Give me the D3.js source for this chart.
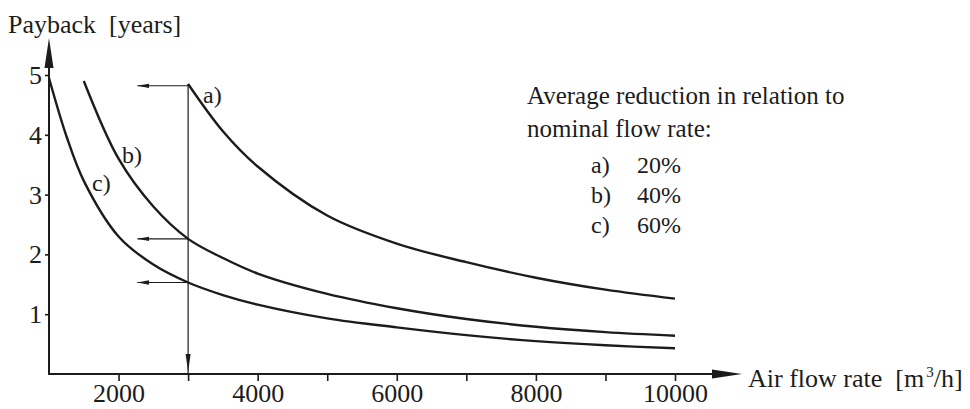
<!DOCTYPE html>
<html>
<head>
<meta charset="utf-8">
<script src="https://cdn.jsdelivr.net/npm/d3@7"></script>
<style>
  html, body { margin: 0; padding: 0; background: #fff; }
  svg text { font-family: "Liberation Serif", "Times New Roman", serif; fill: #1c1c1c; }
</style>
</head>
<body>
<div id="chart"></div>
<script>
// payback curves: [air flow m3/h, payback years]
const curveA = [[3000, 4.85], [3500, 4.06], [4000, 3.47], [5000, 2.65], [6000, 2.18], [7000, 1.87], [8000, 1.61], [9000, 1.41], [10000, 1.26]]
const curveB = [[1500, 4.90], [2000, 3.60], [2500, 2.80], [3000, 2.26], [3500, 1.94], [4000, 1.68], [5000, 1.34], [6000, 1.10], [7000, 0.92], [8000, 0.79], [9000, 0.70], [10000, 0.64]]
const curveC = [[1000, 4.95], [1250, 3.98], [1500, 3.23], [2000, 2.30], [2500, 1.83], [3000, 1.53], [3500, 1.32], [4000, 1.16], [5000, 0.93], [6000, 0.78], [7000, 0.65], [8000, 0.55], [9000, 0.48], [10000, 0.43]]
const curveNames = ["a)", "b)", "c)"]
const reductions = ["20%", "40%", "60%"]

// reading example at 3000 m3/h
const readFlow = 3000
const readPayback = [4.82, 2.26, 1.53]

const xTicks = [2000, 3000, 4000, 5000, 6000, 7000, 8000, 9000, 10000]
const xLabels = [2000, 4000, 6000, 8000, 10000]
const yTicks = [1, 2, 3, 4, 5]

const width = 970
const height = 409
const ink = "#1c1c1c"

const svg = d3.select("#chart")
    .append("svg")
    .attr("width", width)
    .attr("height", height)
    .attr("viewBox", [0, 0, width, height])

const x = d3.scaleLinear().domain([1000, 10000]).range([49, 675])
const y = d3.scaleLinear().domain([0, 5]).range([374, 75])

// 箭头 marker for the small reading arrows
svg.append("defs")
    .append("marker")
    .attr("id", "arrow")
    .attr("markerUnits", "userSpaceOnUse")
    .attr("markerWidth", 12)
    .attr("markerHeight", 6)
    .attr("viewBox", "0 -3 12 6")
    .attr("refX", 12)
    .attr("refY", 0)
    .attr("orient", "auto-start-reverse")
    .append("path")
    .attr("d", "M0,-2.2L12,0L0,2.2Z")
    .attr("fill", ink)

// x axis
const xAxis = svg.append("g")
    .attr("transform", `translate(0,${y(0)})`)
    .call(d3.axisBottom(x).tickValues(xTicks).tickSize(7).tickFormat(d => xLabels.includes(d) ? d : ""))
xAxis.select(".domain").remove()
xAxis.selectAll(".tick line").attr("stroke", ink).attr("stroke-width", 1.6)
xAxis.selectAll(".tick text")
    .attr("y", 28)
    .attr("dy", 0)
    .style("font-size", "26px")

// y axis
const yAxis = svg.append("g")
    .attr("transform", `translate(${x(1000)},0)`)
    .call(d3.axisLeft(y).tickValues(yTicks).tickSize(4).tickPadding(3).tickFormat(d3.format("d")))
yAxis.select(".domain").remove()
yAxis.selectAll(".tick line").attr("stroke", ink).attr("stroke-width", 1.6)
yAxis.selectAll(".tick text")
    .attr("dy", "0.33em")
    .style("font-size", "26px")

// axis lines with long arrow heads
const x0 = x(1000), y0 = y(0)
svg.append("path")
    .attr("d", `M${x0},${y0}H720`)
    .attr("stroke", ink)
    .attr("stroke-width", 2)
svg.append("path")
    .attr("d", `M712,${y0 - 4.5}L742,${y0}L712,${y0 + 4.5}Z`)
    .attr("fill", ink)
svg.append("path")
    .attr("d", `M${x0},${y0 + 1}V60`)
    .attr("stroke", ink)
    .attr("stroke-width", 2)
svg.append("path")
    .attr("d", `M${x0 - 4.5},68L${x0},38L${x0 + 4.5},68Z`)
    .attr("fill", ink)

// curves
const line = d3.line()
    .x(d => x(d[0]))
    .y(d => y(d[1]))
    .curve(d3.curveCatmullRom.alpha(0.5))

svg.append("g")
    .selectAll("path")
    .data([curveA, curveB, curveC])
    .join("path")
    .attr("d", line)
    .attr("fill", "none")
    .attr("stroke", ink)
    .attr("stroke-width", 2.4)

// curve labels
const labelPos = [[3215, 4.54], [2050, 3.53], [1620, 3.06]]
svg.append("g")
    .selectAll("text")
    .data(curveNames)
    .join("text")
    .attr("x", (d, i) => x(labelPos[i][0]))
    .attr("y", (d, i) => y(labelPos[i][1]))
    .style("font-size", "24px")
    .text(d => d)

// reading lines
svg.append("line")
    .attr("x1", x(readFlow))
    .attr("x2", x(readFlow))
    .attr("y1", y(curveA[0][1]))
    .attr("y2", y(0))
    .attr("stroke", ink)
    .attr("stroke-width", 1.2)
svg.append("path")
    .attr("d", `M${x(readFlow) - 2.5},354L${x(readFlow)},372L${x(readFlow) + 2.5},354Z`)
    .attr("fill", ink)

svg.append("g")
    .selectAll("line")
    .data(readPayback)
    .join("line")
    .attr("x1", x(readFlow))
    .attr("x2", x(2270))
    .attr("y1", d => y(d))
    .attr("y2", d => y(d))
    .attr("stroke", ink)
    .attr("stroke-width", 1.2)
    .attr("marker-end", "url(#arrow)")

// axis titles
svg.append("text")
    .attr("x", 8)
    .attr("y", 33)
    .style("font-size", "26px")
    .attr("xml:space", "preserve")
    .text("Payback  [years]")

const xt = svg.append("text")
    .attr("x", 748)
    .attr("y", 387)
    .style("font-size", "26px")
    .attr("xml:space", "preserve")
xt.append("tspan").text("Air flow rate  [m")
xt.append("tspan").attr("dy", -10).attr("dx", 2).style("font-size", "15px").text("3")
xt.append("tspan").attr("dy", 10).text("/h]")

// legend
svg.append("text")
    .attr("x", 527)
    .attr("y", 104)
    .style("font-size", "25px")
    .text("Average reduction in relation to")
svg.append("text")
    .attr("x", 527)
    .attr("y", 137)
    .style("font-size", "25px")
    .text("nominal flow rate:")

const legend = svg.append("g")
    .selectAll("g")
    .data(curveNames)
    .join("g")
    .attr("transform", (d, i) => `translate(0,${173 + i * 30})`)
legend.append("text")
    .attr("x", 591)
    .style("font-size", "24px")
    .text(d => d)
legend.append("text")
    .attr("x", 637)
    .style("font-size", "24px")
    .text((d, i) => reductions[i])
</script>
</body>
</html>
